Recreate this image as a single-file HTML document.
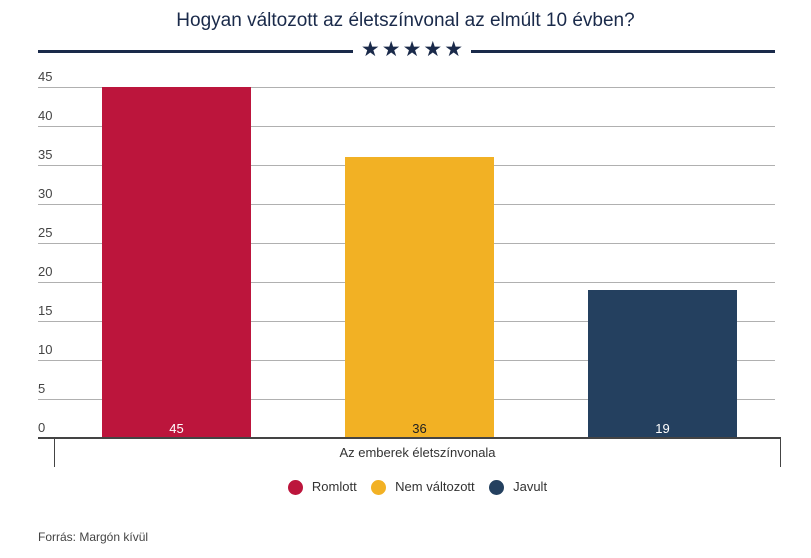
<!DOCTYPE html>
<html><head><meta charset="utf-8"><style>
body{margin:0;width:811px;height:558px;background:#fff;font-family:"Liberation Sans",sans-serif;position:relative;overflow:hidden}
.a{position:absolute}
.yl{position:absolute;left:38px;font-size:13px;color:#444}
.g{position:absolute;left:38px;width:737px;height:1px;background:#b0b0b0}
.bar{position:absolute;width:149px}
.v{position:absolute;bottom:2px;width:100%;text-align:center;font-size:13px}
.dot{display:inline-block;width:15px;height:15px;border-radius:50%;vertical-align:middle;margin-right:9px}
</style></head><body>
<div class="a" style="top:10px;left:0;width:811px;text-align:center;font-size:19px;color:#1a2a4a">Hogyan változott az életszínvonal az elmúlt 10 évben?</div>
<div class="a" style="left:38px;top:50px;width:315px;height:3px;background:#1a2a4a"></div>
<div class="a" style="left:471px;top:50px;width:304px;height:3px;background:#1a2a4a"></div>
<div class="a" style="left:353px;top:37px;width:118px;text-align:center;font-size:21px;color:#1a2a4a;letter-spacing:2px;text-indent:2px">★★★★★</div>
<div class="g" style="top:87px"></div><div class="yl" style="top:69px">45</div>
<div class="g" style="top:126px"></div><div class="yl" style="top:108px">40</div>
<div class="g" style="top:165px"></div><div class="yl" style="top:147px">35</div>
<div class="g" style="top:204px"></div><div class="yl" style="top:186px">30</div>
<div class="g" style="top:243px"></div><div class="yl" style="top:225px">25</div>
<div class="g" style="top:282px"></div><div class="yl" style="top:264px">20</div>
<div class="g" style="top:321px"></div><div class="yl" style="top:303px">15</div>
<div class="g" style="top:360px"></div><div class="yl" style="top:342px">10</div>
<div class="g" style="top:399px"></div><div class="yl" style="top:381px">5</div>
<div class="yl" style="top:420px">0</div>
<div class="bar" style="left:102px;top:87px;height:351px;background:#bc153c"><div class="v" style="color:#fff">45</div></div>
<div class="bar" style="left:345px;top:157px;height:281px;background:#f2b124"><div class="v" style="color:#222">36</div></div>
<div class="bar" style="left:588px;top:290px;height:148px;background:#24405f"><div class="v" style="color:#fff">19</div></div>
<div class="a" style="left:38px;top:437px;width:743px;height:2px;background:#444"></div>
<div class="a" style="left:54px;top:438px;width:1px;height:29px;background:#444"></div>
<div class="a" style="left:780px;top:438px;width:1px;height:29px;background:#444"></div>
<div class="a" style="top:445px;left:0;width:835px;text-align:center;font-size:13px;color:#333">Az emberek életszínvonala</div>
<div class="a" style="top:479px;left:0;width:835px;text-align:center;font-size:13px;color:#333">
<span class="dot" style="background:#bc153c"></span>Romlott&nbsp;&nbsp;&nbsp;&nbsp;<span class="dot" style="background:#f2b124"></span>Nem változott&nbsp;&nbsp;&nbsp;&nbsp;<span class="dot" style="background:#24405f"></span>Javult</div>
<div class="a" style="top:530px;left:38px;font-size:12px;color:#444">Forrás: Margón kívül</div>
</body></html>
